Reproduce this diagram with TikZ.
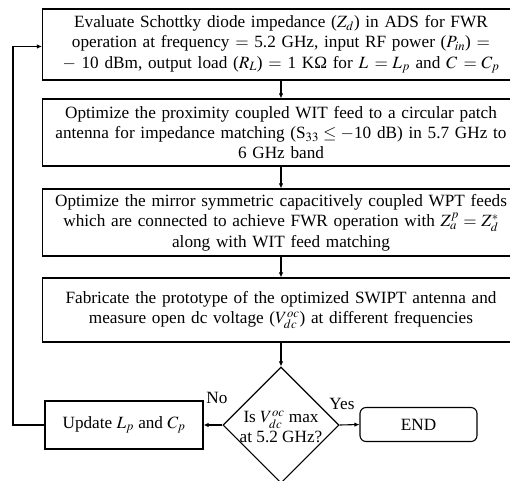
\documentclass[tikz,border=0pt]{standalone}
\usepackage{mathptmx}
\usepackage{fontspec}
\setmainfont{Liberation Serif}
\usetikzlibrary{arrows.meta,shapes.geometric}
\tikzset{
  txt/.style={font=\fontsize{17.2}{20.3}\selectfont},
  procbox/.style={txt, draw, rectangle, line width=1.1pt, minimum width=477pt,
    text width=470pt, align=center, inner sep=0pt},
  smallbox/.style={txt, draw, rectangle, line width=1.1pt, inner sep=0pt, align=center},
  arr/.style={line width=1.1pt, -{Latex[length=5pt,width=4.5pt]}},
  ln/.style={line width=1.1pt}
}
\begin{document}
\begin{tikzpicture}[x=1pt,y=-1pt]
\clip (0,0) rectangle (510,480);
\node[procbox, minimum height=71pt] (b1) at (281,44.5)
  {Evaluate Schottky diode impedance ($Z_d$) in ADS for FWR\\
   operation at frequency $=$ 5.2 GHz, input RF power ($P_{in}$) $=$\\
   $-$ 10 dBm, output load ($R_L$) $=$ 1 KΩ for $L\,=L_p$ and $C\,=C_p$};
\node[procbox, minimum height=67pt] (b2) at (281,132.5)
  {Optimize the proximity coupled WIT feed to a circular patch\\
   antenna for impedance matching (S$_{33}\leq -$10 dB) in 5.7 GHz to\\
   6 GHz band};
\node[procbox, minimum height=67pt] (b3) at (281,222.5)
  {Optimize the mirror symmetric capacitively coupled WPT feeds\\
   which are connected to achieve FWR operation with $Z_a^p=Z_d^*$\\
   along with WIT feed matching};
\node[procbox, minimum height=64pt] (b4) at (281,310)
  {Fabricate the prototype of the optimized SWIPT antenna and\\
   measure open dc voltage ($V_{dc}^{oc}$) at different frequencies};
\node[draw, diamond, line width=1.1pt, minimum width=116pt, minimum height=116pt, inner sep=0pt] (dec) at (281,425) {};
\node[txt, align=center, inner sep=0pt] (dect) at (281,427) {Is $V_{dc}^{oc}$ max\\ at 5.2 GHz?};
\node[smallbox, minimum width=158pt, minimum height=48pt] (upd) at (124,425) {Update $L_p$ and $C_p$};
\node[smallbox, rounded corners=6pt, minimum width=117pt, minimum height=34pt] (end) at (418.5,424.5) {END};
\node[txt, inner sep=0pt] (no) at (217,398) {No};
\node[txt, inner sep=0pt] (yes) at (342,404) {Yes};
\coordinate (lp) at (13,425);
\draw[arr] (b1) -- (b2);
\draw[arr] (b2) -- (b3);
\draw[arr] (b3) -- (b4);
\draw[arr] (b4) -- (dec.north);
\draw[arr] (dec.east) -- (end.west);
\draw[arr] (dec.west) -- (upd.east);
\draw[arr] (upd.west) -- (lp) |- ([yshift=-2pt]b1.west);
\end{tikzpicture}
\end{document}
